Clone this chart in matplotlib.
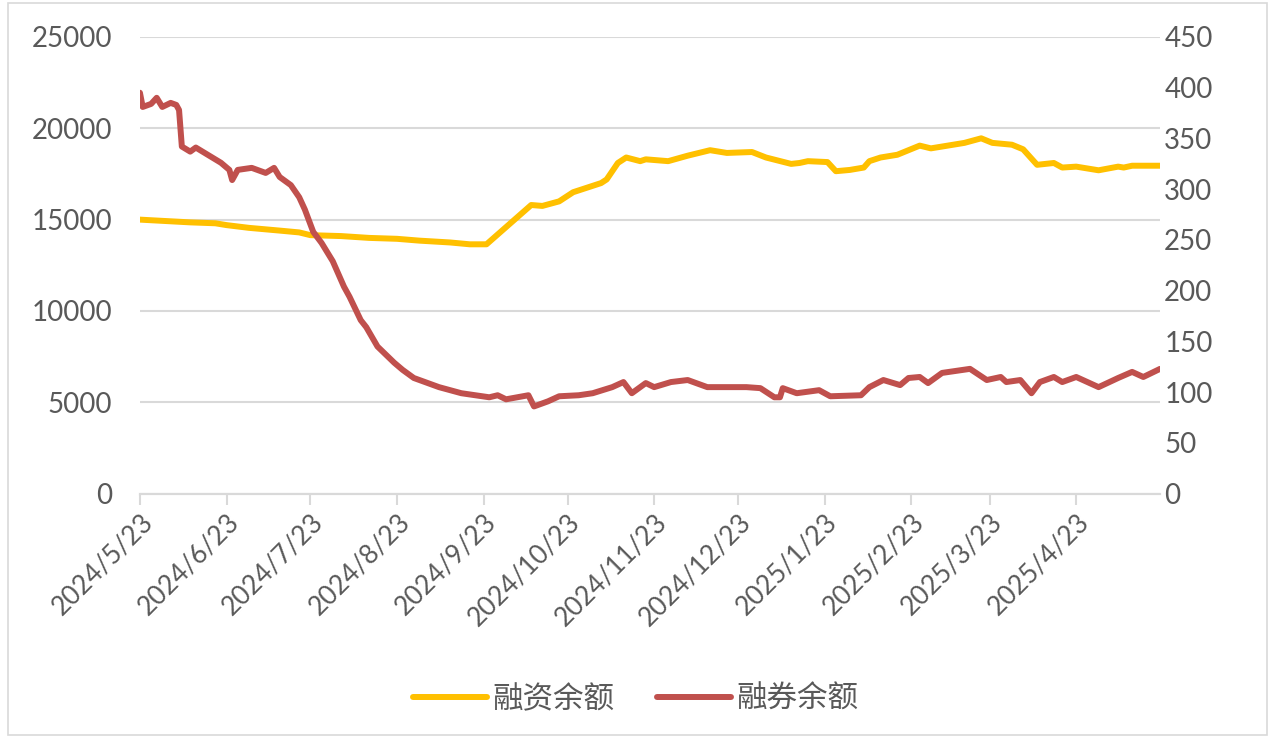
import pandas as pd
import matplotlib.pyplot as plt
from matplotlib.patches import Rectangle

# 融资余额 (left axis)
fin_dates = ["2024-05-23", "2024-05-29", "2024-06-10", "2024-06-19", "2024-06-23", "2024-07-01",
             "2024-07-12", "2024-07-19", "2024-07-23", "2024-08-03", "2024-08-13", "2024-08-23",
             "2024-08-31", "2024-09-11", "2024-09-18", "2024-09-24", "2024-10-10", "2024-10-14",
             "2024-10-20", "2024-10-25", "2024-10-31", "2024-11-04", "2024-11-06", "2024-11-10",
             "2024-11-13", "2024-11-18", "2024-11-20", "2024-11-28", "2024-12-05", "2024-12-09",
             "2024-12-13", "2024-12-19", "2024-12-28", "2025-01-02", "2025-01-11", "2025-01-14",
             "2025-01-17", "2025-01-24", "2025-01-27", "2025-02-01", "2025-02-06", "2025-02-08",
             "2025-02-12", "2025-02-18", "2025-02-26", "2025-03-02", "2025-03-06", "2025-03-14",
             "2025-03-20", "2025-03-24", "2025-03-31", "2025-04-04", "2025-04-09", "2025-04-15",
             "2025-04-18", "2025-04-23", "2025-05-01", "2025-05-08", "2025-05-10", "2025-05-13",
             "2025-05-23"]
fin_values = [15000, 14950, 14850, 14800, 14700, 14550,
              14400, 14300, 14150, 14100, 14000, 13950,
              13850, 13750, 13650, 13650, 15800, 15750,
              16000, 16500, 16800, 17000, 17200, 18100,
              18400, 18200, 18300, 18200, 18500, 18650,
              18800, 18650, 18700, 18400, 18050, 18100,
              18200, 18150, 17650, 17720, 17850, 18200,
              18400, 18550, 19050, 18900, 19000, 19200,
              19450, 19200, 19100, 18850, 18000, 18100,
              17850, 17900, 17700, 17900, 17850, 17950,
              17950]

# 融券余额 (right axis)
sec_dates = ["2024-05-23", "2024-05-24", "2024-05-27", "2024-05-29", "2024-05-31", "2024-06-03",
             "2024-06-05", "2024-06-06", "2024-06-07", "2024-06-10", "2024-06-12", "2024-06-21",
             "2024-06-24", "2024-06-25", "2024-06-27", "2024-07-02", "2024-07-07", "2024-07-10",
             "2024-07-12", "2024-07-16", "2024-07-19", "2024-07-21", "2024-07-24", "2024-07-27",
             "2024-07-31", "2024-08-04", "2024-08-06", "2024-08-10", "2024-08-12", "2024-08-16",
             "2024-08-22", "2024-08-25", "2024-08-29", "2024-09-07", "2024-09-15", "2024-09-25",
             "2024-09-28", "2024-10-01", "2024-10-09", "2024-10-11", "2024-10-16", "2024-10-20",
             "2024-10-27", "2024-11-01", "2024-11-08", "2024-11-12", "2024-11-15", "2024-11-20",
             "2024-11-23", "2024-11-29", "2024-12-05", "2024-12-12", "2024-12-18", "2024-12-26",
             "2024-12-31", "2025-01-05", "2025-01-07", "2025-01-08", "2025-01-13", "2025-01-21",
             "2025-01-25", "2025-02-05", "2025-02-08", "2025-02-13", "2025-02-19", "2025-02-22",
             "2025-02-26", "2025-03-01", "2025-03-06", "2025-03-16", "2025-03-22", "2025-03-27",
             "2025-03-29", "2025-04-03", "2025-04-07", "2025-04-10", "2025-04-15", "2025-04-18",
             "2025-04-23", "2025-05-01", "2025-05-08", "2025-05-13", "2025-05-17", "2025-05-23"]
sec_values = [395, 381, 384, 390, 381, 385,
              383, 378, 342, 337, 341, 326,
              319, 309, 319, 321, 316, 321,
              312, 304, 292, 280, 258, 247,
              229, 204, 194, 171, 164, 145,
              129, 122, 114, 105, 99, 95,
              97, 93, 97, 86, 91, 96,
              97, 99, 105, 110, 99, 109,
              105, 110, 112, 105, 105, 105,
              104, 95, 95, 104, 99, 102,
              96, 97, 105, 112, 107, 114,
              115, 109, 119, 123, 112, 115,
              110, 112, 99, 110, 115, 110,
              115, 105, 114, 120, 115, 123]

tick_dates = ["2024-05-23", "2024-06-23", "2024-07-23", "2024-08-23", "2024-09-23", "2024-10-23",
              "2024-11-23", "2024-12-23", "2025-01-23", "2025-02-23", "2025-03-23", "2025-04-23"]
tick_labels = ["2024/5/23", "2024/6/23", "2024/7/23", "2024/8/23", "2024/9/23", "2024/10/23",
               "2024/11/23", "2024/12/23", "2025/1/23", "2025/2/23", "2025/3/23", "2025/4/23"]

plt.rcParams['font.family'] = ['Noto Sans CJK SC', 'DejaVu Sans']
gray = "#595959"

fig = plt.figure(figsize=(12.72, 7.38), dpi=100)
ax = fig.add_axes([0.110, 0.331, 0.802, 0.619])
ax2 = ax.twinx()

l1, = ax.plot(pd.to_datetime(fin_dates), fin_values, color="#FFC000", lw=4.3,
              solid_capstyle="round", label="融资余额", zorder=3)
l2, = ax2.plot(pd.to_datetime(sec_dates), sec_values, color="#C0504D", lw=4.3,
               solid_capstyle="round", label="融券余额", zorder=3)

ax.set_ylim(0, 25000)
ax.set_yticks(range(0, 25001, 5000))
ax2.set_ylim(0, 450)
ax2.set_yticks(range(0, 451, 50))
ax.set_xlim(pd.Timestamp("2024-05-23"), pd.Timestamp("2025-05-23"))
ax.set_xticks(pd.to_datetime(tick_dates))
ax.set_xticklabels(tick_labels, rotation=45, ha="right", rotation_mode="anchor")

ax.grid(axis="y", color="#D9D9D9", lw=1.5)
ax.set_axisbelow(True)
for a in (ax, ax2):
    for s in ("top", "left", "right"):
        a.spines[s].set_visible(False)
    a.spines["bottom"].set_color("#D9D9D9")
    a.spines["bottom"].set_linewidth(1.5)
ax.tick_params(axis="y", length=0, labelsize=20, labelcolor=gray, pad=20)
ax2.tick_params(axis="y", length=0, labelsize=20, labelcolor=gray, pad=3)
ax.tick_params(axis="x", length=8, width=1.5, color="#D9D9D9", labelsize=19, labelcolor=gray, pad=3)
for t in ax.get_yticklabels() + ax2.get_yticklabels() + ax.get_xticklabels():
    t.set_family(["Lato", "DejaVu Sans"])

fig.legend(handles=[l1, l2], loc="center", bbox_to_anchor=(0.5, 0.052), ncol=2, frameon=False,
           fontsize=22, labelcolor=gray, handlelength=2.4, columnspacing=1.4, handletextpad=0.2)

fig.patches.append(Rectangle((0.006, 0.004), 0.99, 0.992, transform=fig.transFigure,
                             fill=False, edgecolor="#D9D9D9", lw=1.2))

fig.savefig("out.png", dpi=100)
